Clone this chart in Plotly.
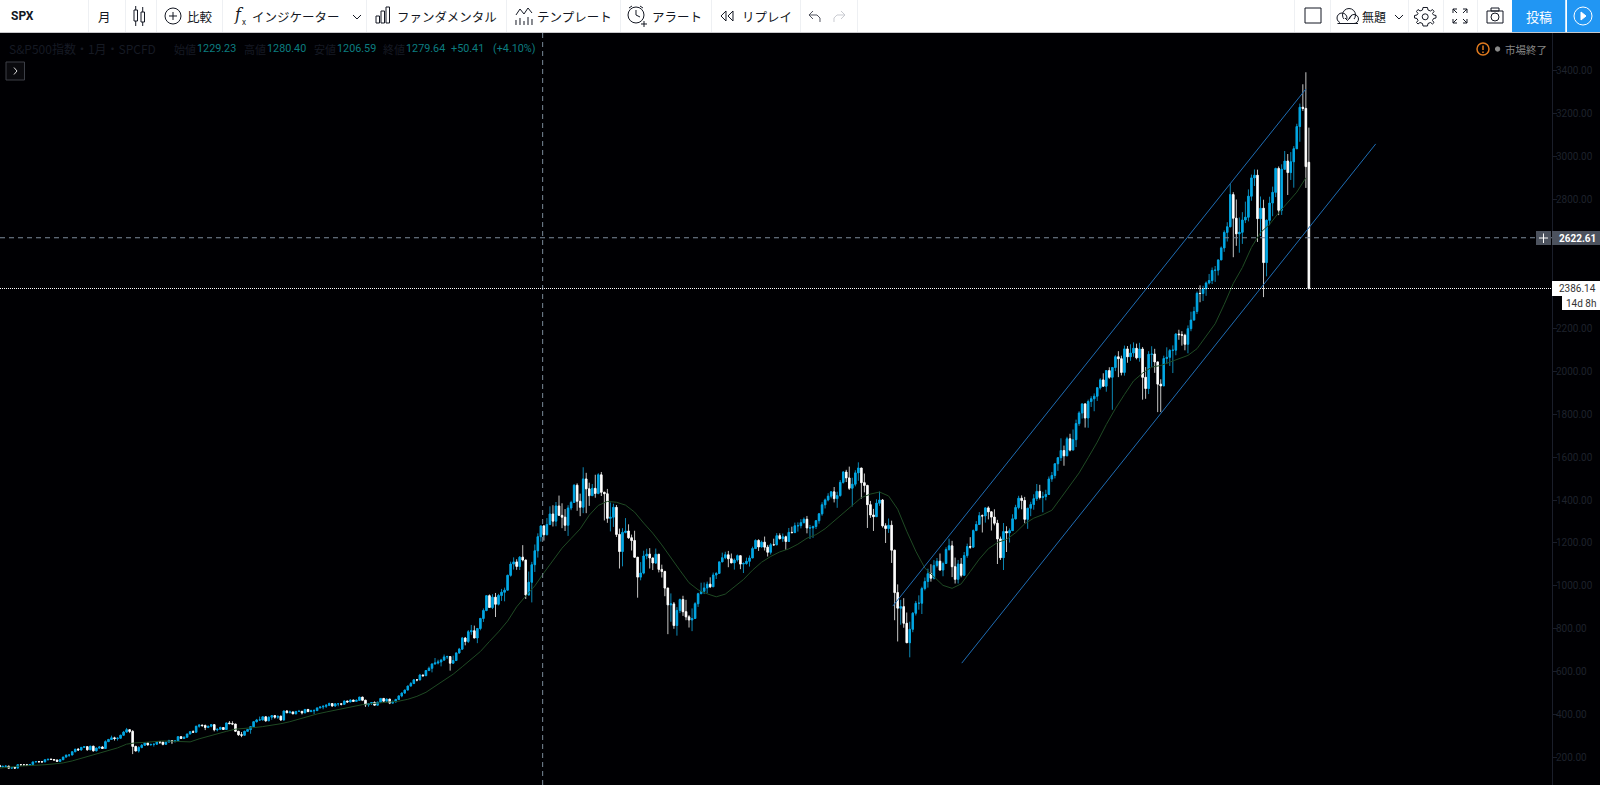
import plotly.graph_objects as go

# Monthly S&P 500 bars, Feb 1984 .. Mar 2020
closes = [
157.06,159.18,160.05,150.55,153.18,150.66,166.68,166.10,166.09,163.58,167.24,
179.63,181.18,180.66,179.83,189.55,191.85,190.92,188.63,182.08,189.82,202.17,211.28,
211.78,226.92,238.90,235.52,247.35,250.84,236.12,252.93,231.32,243.98,249.22,242.17,
274.08,284.20,291.70,288.36,290.10,304.00,318.66,329.80,321.83,251.79,230.30,247.08,
257.07,267.82,258.89,261.33,262.16,273.50,272.02,261.52,271.91,278.97,273.70,277.72,
297.47,288.86,294.87,309.64,320.52,317.98,346.08,351.45,349.15,340.36,345.99,353.40,
329.08,331.89,339.94,330.80,361.23,358.02,356.15,322.56,306.05,304.00,322.22,330.22,
343.93,367.07,375.22,375.34,389.83,371.16,387.81,395.43,387.86,392.46,375.22,417.09,
408.79,412.70,403.69,414.95,415.35,408.14,424.21,414.03,417.80,418.68,431.35,435.71,
438.78,443.38,451.67,440.19,450.19,450.53,448.13,463.56,458.93,467.83,461.79,466.45,
481.61,467.14,445.77,450.91,456.50,444.27,458.26,475.49,462.69,472.35,453.69,459.27,
470.42,487.39,500.71,514.71,533.40,544.75,562.06,561.88,584.41,581.50,605.37,615.93,
636.02,640.43,645.50,654.17,669.12,670.63,639.95,651.99,687.33,705.27,757.02,740.74,
786.16,790.82,757.12,801.34,848.28,885.14,954.31,899.47,947.28,914.62,955.40,970.43,
980.28,1049.34,1101.75,1111.75,1090.82,1133.84,1120.67,957.28,1017.01,1098.67,1163.63,1229.23,
1279.64,1238.33,1286.37,1335.18,1301.84,1372.71,1328.72,1320.41,1282.71,1362.93,1388.91,1469.25,
1394.46,1366.42,1498.58,1452.43,1420.60,1454.60,1430.83,1517.68,1436.51,1429.40,1314.95,1320.28,
1366.01,1239.94,1160.33,1249.46,1255.82,1224.38,1211.23,1133.58,1040.94,1059.78,1139.45,1148.08,
1130.20,1106.73,1147.39,1076.92,1067.14,989.82,911.62,916.07,815.28,885.76,936.31,879.82,
855.70,841.15,848.18,916.92,963.59,974.50,990.31,1008.01,995.97,1050.71,1058.20,1111.92,
1131.13,1144.94,1126.21,1107.30,1120.68,1140.84,1101.72,1104.24,1114.58,1130.20,1173.82,1211.92,
1181.27,1203.60,1180.59,1156.85,1191.50,1191.33,1234.18,1220.33,1228.81,1207.01,1249.48,1248.29,
1280.08,1280.66,1294.87,1310.61,1270.09,1270.20,1276.66,1303.82,1335.85,1377.94,1400.63,1418.30,
1438.24,1406.82,1420.86,1482.37,1530.62,1503.35,1455.27,1473.99,1526.75,1549.38,1481.14,1468.36,
1378.55,1330.63,1322.70,1385.59,1400.38,1280.00,1267.38,1282.83,1166.36,968.75,896.24,903.25,
825.88,735.09,797.87,872.81,919.14,919.32,987.48,1020.62,1057.08,1036.19,1095.63,1115.10,
1073.87,1104.49,1169.43,1186.69,1089.41,1030.71,1101.60,1049.33,1141.20,1183.26,1180.55,1257.64,
1286.12,1327.22,1325.83,1363.61,1345.20,1320.64,1292.28,1218.89,1131.42,1253.30,1246.96,1257.60,
1312.41,1365.68,1408.47,1397.91,1310.33,1362.16,1379.32,1406.58,1440.67,1412.16,1416.18,1426.19,
1498.11,1514.68,1569.19,1597.57,1630.74,1606.28,1685.73,1632.97,1681.55,1756.54,1805.81,1848.36,
1782.59,1859.45,1872.34,1883.95,1923.57,1960.23,1930.67,2003.37,1972.29,2018.05,2067.56,2058.90,
1994.99,2104.50,2067.89,2085.51,2107.39,2063.11,2103.84,1972.18,1920.03,2079.36,2080.41,2043.94,
1940.24,1932.23,2059.74,2065.30,2096.95,2098.86,2173.60,2170.95,2168.27,2126.15,2198.81,2238.83,
2278.87,2363.64,2362.72,2384.20,2411.80,2423.41,2470.30,2471.65,2519.36,2575.26,2647.58,2673.61,
2823.81,2713.83,2640.87,2648.05,2705.27,2718.37,2816.29,2901.52,2913.98,2711.74,2760.17,2506.85,
2704.10,2784.49,2834.40,2945.83,2750.79,2941.76,2980.38,2926.46,2976.74,3037.56,3140.98,3230.78,
3225.52,2954.22,2386.14]
opens = [163.41] + closes[:-1]   # each month opens at the prior close (header: 1229.23 open = Dec close)
opens[-1] = 2974.28
highs = [
163.6,160.6,161.0,161.0,155.0,154.0,168.0,169.0,167.0,170.0,168.0,
180,183,184,183,190,192,196,193,189,191,203,213,
214,227,240,244,249,251,252,254,254,246,254,254,
280,287,302,297,294,306,324,338,329,328,255,253,
263,269,271,263,263,275,274,272,272,283,280,279,
298,300,298,310,322,327,346,354,351,354,347,354,
354,335,344,342,362,370,369,356,322,319,325,331,
344,370,380,391,390,391,392,396,393,393,396,418,
421,419,413,417,422,417,425,426,423,425,431,436,
443,449,456,452,454,452,451,465,463,472,469,471,
483,483,469,454,459,462,459,477,476,475,472,466,
474,489,503,515,534,552,565,565,590,587,608,624,
639,664,656,660,680,675,672,675,690,711,762,762,
794,818,815,804,851,895,957,960,961,967,963,986,
992,1052,1113,1133,1124,1139,1190,1120,1067,1112,1193,1245,
1280.40,1283,1316,1371,1376,1391,1421,1385,1358,1376,1397,1474,
1478,1430,1553,1527,1481,1475,1518,1525,1531,1437,1452,1389,
1383,1377,1267,1269,1316,1287,1239,1257,1134,1111,1164,1173,
1176,1131,1174,1147,1099,1071,991,965,925,901,941,954,
935,864,895,924,968,1015,1016,1020,1040,1062,1064,1112,
1155,1159,1163,1151,1128,1146,1141,1110,1132,1142,1183,1217,
1217,1211,1230,1191,1200,1220,1246,1245,1244,1234,1270,1276,
1295,1296,1311,1319,1326,1284,1281,1307,1340,1390,1407,1432,
1441,1461,1439,1493,1535,1541,1556,1504,1539,1576,1545,1524,
1471,1396,1359,1404,1440,1405,1292,1314,1304,1168,1007,935,
943,876,833,878,930,956,996,1039,1080,1101,1120,1130,
1151,1113,1180,1220,1210,1132,1121,1130,1158,1197,1227,1263,
1302,1344,1333,1365,1371,1346,1357,1308,1230,1293,1278,1268,
1334,1378,1420,1422,1415,1363,1392,1427,1475,1471,1439,1448,
1510,1531,1570,1598,1688,1654,1695,1709,1729,1775,1814,1850,
1851,1868,1884,1897,1925,1968,1991,2005,2019,2019,2075,2094,
2073,2120,2118,2126,2135,2129,2133,2113,2020,2094,2117,2105,
2039,1963,2073,2112,2104,2121,2178,2194,2187,2175,2214,2278,
2301,2372,2401,2399,2419,2454,2484,2491,2520,2582,2657,2695,
2873,2835,2801,2717,2742,2791,2848,2917,2941,2940,2815,2800,
2708,2814,2861,2949,2955,2965,3027,3013,3022,3050,3154,3248,
3338,3394,3136]
lows = [
154.3,154.0,156.0,150.3,148.7,147.3,150.6,164.0,162.0,162.6,161.5,
163.4,178,176,177,178,187,189,185,180,181,189,200,
203,211,225,231,232,245,232,235,228,229,242,242,
242,273,283,279,279,288,302,315,314,216,230,223,
243,255,256,257,251,261,263,257,262,271,263,272,
276,287,288,293,309,316,318,339,343,328,337,341,
322,322,331,329,331,356,351,322,301,295,303,322,
311,343,363,372,373,367,370,376,381,380,371,372,
407,407,403,402,413,401,407,412,413,403,418,430,
425,431,440,438,437,439,443,447,456,458,461,461,
464,463,436,437,445,443,444,454,462,461,449,452,
458,468,481,496,513,531,544,555,560,576,580,606,
597,634,634,625,650,659,605,637,650,684,702,723,
734,772,757,733,793,832,882,899,892,855,909,930,
928,980,1043,1076,1075,1074,1114,939,971,923,1065,1132,
1206.59,1211,1236,1283,1277,1278,1328,1269,1256,1233,1353,1387,
1350,1325,1339,1339,1373,1420,1411,1427,1419,1305,1294,1254,
1275,1228,1081,1091,1245,1219,1165,1131,945,1026,1054,1124,
1081,1074,1102,1063,1039,952,775,833,800,768,873,860,
840,806,789,847,902,962,962,965,990,995,1032,1058,
1122,1124,1087,1108,1076,1113,1078,1060,1099,1090,1130,1173,
1163,1180,1165,1137,1146,1191,1191,1216,1205,1168,1205,1246,
1248,1253,1268,1291,1245,1219,1224,1265,1290,1327,1361,1394,
1408,1389,1364,1416,1477,1484,1447,1370,1464,1490,1407,1436,
1270,1317,1256,1324,1373,1272,1200,1247,1107,840,741,819,
805,735,667,784,862,889,869,979,992,1020,1030,1086,
1071,1045,1102,1164,1041,1011,1011,1040,1050,1131,1173,1186,
1257,1288,1249,1295,1310,1258,1282,1102,1121,1074,1158,1202,
1259,1310,1357,1357,1292,1266,1325,1355,1396,1403,1343,1399,
1426,1485,1501,1536,1582,1560,1605,1627,1633,1647,1746,1780,
1738,1737,1834,1814,1862,1915,1931,1905,1965,1821,2001,1973,
1981,1980,2040,2049,2068,2056,2045,1868,1872,1894,2020,1993,
1810,1810,1932,2034,2025,1992,2075,2147,2120,2098,2084,2187,
2245,2267,2322,2328,2352,2405,2407,2417,2447,2520,2557,2605,
2683,2532,2585,2553,2594,2691,2699,2795,2864,2603,2631,2346,
2443,2681,2723,2812,2728,2729,2952,2822,2892,2856,3050,3070,
3214,2855,2381]

months = list(range(len(closes)))
# 20-month average line, one reading every third month
ma_months = list(range(0, 433, 3))
ma_values = [
150.5,156.6,159.5,162.0,163.6,166.5,170.3,175.0,184.3,196.2,208.4,217.6,
229.5,244.9,262.4,268.7,270.6,273.7,277.3,276.0,275.1,272.9,287.2,299.8,
310.6,322.0,332.3,334.8,339.5,344.2,349.9,357.6,367.1,379.5,394.0,403.1,
412.2,420.7,429.6,437.8,446.6,451.5,456.1,458.8,462.6,471.5,485.2,504.0,
531.0,559.7,588.5,623.1,659.3,694.2,741.0,785.8,836.1,902.4,952.8,1000.1,
1060.7,1116.8,1175.9,1221.0,1265.7,1329.6,1375.1,1394.0,1389.8,1376.5,1343.9,1292.9,
1245.8,1191.1,1128.7,1072.3,1014.6,981.8,963.1,949.1,961.8,997.4,1029.6,1073.3,
1110.4,1137.1,1158.4,1172.5,1194.5,1222.3,1239.0,1266.5,1302.6,1340.2,1376.6,1411.6,
1428.0,1437.6,1419.3,1357.5,1254.9,1161.6,1083.0,1040.9,1002.3,988.7,1009.4,1066.7,
1124.7,1173.2,1202.4,1216.6,1248.0,1289.3,1315.6,1332.1,1352.6,1410.3,1468.7,1526.5,
1597.5,1670.2,1752.2,1826.0,1892.2,1955.2,1991.6,2019.9,2027.3,2043.1,2058.1,2074.3,
2105.6,2163.7,2221.8,2312.3,2409.8,2483.9,2577.5,2646.6,2685.4,2738.8,2786.4,2835.3,
2902.2]
price_ticks = [200,400,600,800,1000,1200,1400,1600,1800,2000,2200,2800,3000,3200,3400]
crosshair_month = 179.6
crosshair_price = 2622.61
last_price = 2386.14
upper_channel_m = [295.4, 432.0]
upper_channel_v = [906, 3316]
lower_channel_m = [318.2, 455.1]
lower_channel_v = [640, 3060]

UP, DOWN = "#00a8e6", "#ffffff"
UPW, DOWNW = "#0b86b4", "#c4c4c4"
body_hi = [max(a, b) for a, b in zip(opens, closes)]
body_lo = [min(a, b) for a, b in zip(opens, closes)]

fig = go.Figure()
fig.add_trace(go.Scatter(x=ma_months, y=ma_values, mode="lines", line=dict(color="#1f4a24", width=1), hoverinfo="skip"))
fig.add_trace(go.Candlestick(x=months, open=opens, high=highs, low=lows, close=closes, hoverinfo="skip",
    increasing=dict(line=dict(color=UPW, width=1), fillcolor=UP),
    decreasing=dict(line=dict(color=DOWNW, width=1), fillcolor=DOWN), whiskerwidth=0))
fig.add_trace(go.Candlestick(x=months, open=opens, high=body_hi, low=body_lo, close=closes, hoverinfo="skip",
    increasing=dict(line=dict(color=UP, width=0.6), fillcolor=UP),
    decreasing=dict(line=dict(color=DOWN, width=0.6), fillcolor=DOWN), whiskerwidth=0))

W, H, MR, MT = 1600, 785, 48, 33
PW, PH = W - MR, H - MT
X = lambda p: p / PW
Y = lambda p: (H - p) / PH
shapes, ann = [], []
INK = "#131722"

def rect(x0, y0, x1, y1, fill=None, line=None, lw=1):
    shapes.append(dict(type="rect", xref="paper", yref="paper", x0=X(x0), x1=X(x1), y0=Y(y0), y1=Y(y1),
                       fillcolor=fill or "rgba(0,0,0,0)", line=dict(color=line or "rgba(0,0,0,0)", width=lw if line else 0)))
def circ(cx, cy, rx, ry=None, fill=None, line=INK, lw=1):
    ry = ry or rx
    shapes.append(dict(type="circle", xref="paper", yref="paper", x0=X(cx-rx), x1=X(cx+rx), y0=Y(cy-ry), y1=Y(cy+ry),
                       fillcolor=fill or "rgba(0,0,0,0)", line=dict(color=line, width=lw)))
def poly(pts, color=INK, lw=1, closed=False, fill=None):
    d = "M" + " L".join(f"{X(a):.5f} {Y(b):.5f}" for a, b in pts) + (" Z" if closed else "")
    shapes.append(dict(type="path", xref="paper", yref="paper", path=d, line=dict(color=color, width=lw),
                       fillcolor=fill or "rgba(0,0,0,0)"))
CJK = "Noto Sans CJK JP"
def text(x, y, s, size=12.5, color=INK, anchor="left", family=CJK, weight=None):
    f = dict(size=size, color=color, family=family)
    if weight: f["weight"] = weight
    ann.append(dict(xref="paper", yref="paper", x=X(x), y=Y(y), text=s, showarrow=False, xanchor=anchor, yanchor="middle",
                    font=f, borderpad=0))

# toolbar
rect(0, 0, W, 32.5, fill="#ffffff")
rect(0, 32, W, 33, fill="#c8c8cc")
for sx in [88, 125, 156, 222, 366, 506, 620, 711, 800, 857, 1294, 1330, 1408, 1443, 1477]:
    rect(sx, 0, sx+1, 32, fill="#eef0f3")
text(10, 16, "SPX", 12, family="Roboto", weight="bold")
text(104, 16, "月", 12.5, anchor="center")
rect(134, 10, 137.5, 21, line=INK); poly([(135.7,6),(135.7,10)]); poly([(135.7,21),(135.7,26)])
rect(141, 12, 144.5, 22, line=INK); poly([(142.7,7),(142.7,12)]); poly([(142.7,22),(142.7,26)])
circ(173, 16, 8); poly([(173,12),(173,20)]); poly([(169,16),(177,16)])
text(186, 16, "比較")
text(233, 15, "<i>f</i>", 16, family="DejaVu Serif"); text(241, 22, "x", 8)
text(251, 16, "インジケーター")
poly([(353,15),(357,19),(361,15)])
for a, t in [(376,16),(381,11),(386,7)]:
    rect(a, t, a+3.5, 23, line=INK)
text(396, 16, "ファンダメンタル")
poly([(516,15),(520,9),(524,14),(528,8),(532,13)])
for a, t in [(516,20),(520,18),(524,21),(528,17),(532,19)]:
    poly([(a,t),(a,25)])
text(536, 16, "テンプレート")
circ(636, 15, 8); poly([(636,10),(636,15),(640,17)]); poly([(629,8),(632,6)]); poly([(640,6),(643,8)])
poly([(641,24),(647,24)]); poly([(644,21),(644,27)])
text(651, 16, "アラート")
poly([(726,11),(721,16),(726,21),(726,11)], closed=True); poly([(733,11),(728,16),(733,21),(733,11)], closed=True)
text(741, 16, "リプレイ")
poly([(813,11),(809,15),(813,19)], color="#50535e"); poly([(809,15),(817,15),(820,18),(820,22)], color="#50535e")
poly([(841,11),(845,15),(841,19)], color="#c9cbd1"); poly([(845,15),(837,15),(834,18),(834,22)], color="#c9cbd1")
rect(1305, 8, 1321, 23, line=INK)
circ(1342, 18, 5); circ(1349, 15, 6.5); circ(1354, 19, 4.5)
rect(1340, 19, 1354, 23.5, fill="#ffffff")
poly([(1337.5,23.5),(1358,23.5)])
poly([(1345,18),(1347.5,20.5),(1352,15)])
text(1361, 16, "無題", 12)
poly([(1395,15),(1399,19),(1403,15)])
# gear outline
gear = [(1425,7.5),(1427.5,7.5),(1428,10),(1430.5,11),(1432.5,9.5),(1434,11.5),(1432.5,13.5),(1433.5,15),(1436,15.5),(1436,18),
        (1433.5,18.5),(1432.5,20.5),(1434,22.5),(1432.5,24),(1430.5,22.5),(1428,23.5),(1427.5,26),(1423,26),(1422.5,23.5),(1420,22.5),
        (1418,24),(1416.5,22.5),(1418,20.5),(1417,18.5),(1414.5,18),(1414.5,15.5),(1417,15),(1418,13.5),(1416.5,11.5),(1418,9.5),
        (1420,11),(1422.5,10),(1423,7.5)]
poly(gear, closed=True); circ(1425.2, 16.8, 3)
for a, b, c, d in [(1453,9,1457,13),(1467,9,1463,13),(1453,23,1457,19),(1467,23,1463,19)]:
    poly([(a,b),(c,d)])
    poly([(a,b+(4 if d>b else -4)),(a,b),(a+(4 if c>a else -4),b)])
rect(1487, 11, 1503, 23, line=INK); rect(1491, 8, 1499, 11, line=INK); circ(1495, 17, 4)
rect(1512, 0, 1565.5, 32, fill="#2196f3"); rect(1567, 0, W, 32, fill="#2196f3")
rect(1565.5, 0, 1567, 32, fill="#ffffff")
text(1539, 16, "投稿", 13, color="#ffffff", anchor="center")
circ(1583, 16, 9, line="#ffffff")
poly([(1581,12),(1586,16),(1581,20)], color="#ffffff", closed=True, fill="#ffffff")

# legend row
DIM = "#161a23"; TEAL = "#0c7d80"
text(8, 48.5, "S&amp;P500指数・1月・SPCFD", 12, color=DIM)
for lx, lab in [(173,"始値"),(243,"高値"),(313,"安値"),(382,"終値")]:
    text(lx, 48.5, lab, 11, color=DIM)
for lx, v in [(196,"1229.23"),(266,"1280.40"),(336,"1206.59"),(405,"1279.64"),(450,"+50.41"),(492,"(+4.10%)")]:
    text(lx, 48.5, v, 10.8, color=TEAL, family="Roboto")
rect(6, 62, 24.5, 80, fill="#0a0a0e", line="#3c3f47")
poly([(14,67.5),(17,71),(14,74.5)], color="#d8d8d8")
circ(1483, 49, 6, line="#e07a1f", lw=1.5)
poly([(1483,45.5),(1483,50)], color="#e07a1f", lw=1.5); poly([(1483,51.5),(1483,53)], color="#e07a1f", lw=1.5)
circ(1497.6, 49, 2.2, fill="#8a8a8a", line="#8a8a8a")
text(1504, 49, "市場終了", 10.5, color="#868686")

# drawings in data space
LINEB = "#1e6cb4"
def dline(xs, ys, color, width=1, dash="solid"):
    shapes.append(dict(type="line", xref="x", yref="y", x0=xs[0], x1=xs[1], y0=ys[0], y1=ys[1], line=dict(color=color, width=width, dash=dash), layer="above"))
dline(upper_channel_m, upper_channel_v, LINEB)
dline(lower_channel_m, lower_channel_v, LINEB)
dline([crosshair_month, crosshair_month], [72, 3577], "#7b8a9b", 1, "5px,4px")
dline([0.13, 513.4], [crosshair_price]*2, "#7b8a9b", 1, "5px,4px")
dline([0.13, 513.4], [last_price]*2, "#ffffff", 1, "1px,1px")

# price labels
rect(1536, 231, 1551, 245, fill="#4c525e")
poly([(1543.5,233.5),(1543.5,243)], color="#ffffff"); poly([(1539,238),(1548,238)], color="#ffffff")
rect(1552, 231, W, 245, fill="#4c525e")
text(1558, 238, "2622.61", 10, color="#ffffff", family="Roboto", weight="bold")
rect(1552, 281, W, 296, fill="#ffffff")
text(1558, 288.5, "2386.14", 10, color="#333333", family="Roboto")
rect(1562, 296, W, 310, fill="#ffffff")
text(1565, 303, "14d 8h", 10, color="#333333", family="Roboto")

fig.update_layout(width=W, height=H, margin=dict(l=0, r=MR, t=MT, b=0, pad=0), paper_bgcolor="#000003", plot_bgcolor="#000003",
    showlegend=False, shapes=shapes, annotations=ann,
    xaxis=dict(range=[0.13, 513.4], visible=False, rangeslider=dict(visible=False), fixedrange=True),
    yaxis=dict(range=[72, 3577], side="right", showgrid=False, zeroline=False, showline=True, linecolor="#1a1e2a", linewidth=1,
               tickvals=price_ticks, ticktext=[f"{v:.2f}" for v in price_ticks], ticks="outside", ticklen=4, tickcolor="#1a1e2a",
               ticklabelstandoff=-3, tickfont=dict(size=10, color="#1e222c", family="Roboto"), fixedrange=True))
fig.write_html("out.html", config=dict(displayModeBar=False),
               post_script="document.body.style.margin='0';document.body.style.overflow='hidden';")
